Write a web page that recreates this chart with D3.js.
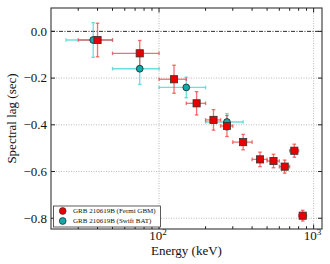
<!DOCTYPE html>
<html><head><meta charset="utf-8">
<script src="https://cdn.jsdelivr.net/npm/d3@7"></script>
<style>
html,body{margin:0;padding:0;background:#fff;}
svg text{font-family:"Liberation Serif","DejaVu Serif",serif;fill:#111;}
</style></head>
<body><svg id="c" width="330" height="264"></svg>
<script>
// Fermi GBM
const gbmE    = [40, 75, 125, 175, 225, 275, 350, 450, 550, 650, 750, 850];
const gbmElo  = [30, 50, 100, 150, 200, 250, 300, 400, 500, 600, 700, 800];
const gbmEhi  = [50, 100, 150, 200, 250, 300, 400, 500, 600, 700, 800, 900];
const gbmLag  = [-0.037, -0.094, -0.205, -0.308, -0.379, -0.405, -0.474, -0.548, -0.555, -0.579, -0.511, -0.789];
const gbmErr  = [0.072, 0.055, 0.060, 0.050, 0.044, 0.045, 0.033, 0.031, 0.029, 0.028, 0.028, 0.023];
// Swift BAT
const batE    = [37.5, 75, 150, 275];
const batElo  = [25, 50, 100, 200];
const batEhi  = [50, 100, 200, 350];
const batLag  = [-0.037, -0.160, -0.240, -0.388];
const batErr  = [0.074, 0.067, 0.044, 0.036];
const yTicks  = [0.0, -0.2, -0.4, -0.6, -0.8];
const xMajor  = [100, 1000];
const xMinor  = [30,40,50,60,70,80,90,200,300,400,500,600,700,800,900];
const legendLabels = ["GRB 210619B (Fermi GBM)", "GRB 210619B (Swift BAT)"];

const L=51, R=322, T=8, B=229;
const svg = d3.select("#c");
const x = d3.scaleLog().domain([20, 1133]).range([L, R]);
const y = d3.scaleLinear().domain([-0.846, 0.1]).range([B, T]);

// grid
const g = svg.append("g");
g.selectAll(".gy").data(yTicks.filter(d=>d!==0)).enter().append("line")
 .attr("x1",L).attr("x2",R).attr("y1",d=>y(d)).attr("y2",d=>y(d))
 .attr("stroke","#aaa").attr("stroke-width",0.8).attr("stroke-dasharray","1,1.5");
g.selectAll(".gx").data(xMajor).enter().append("line")
 .attr("x1",d=>x(d)).attr("x2",d=>x(d)).attr("y1",T).attr("y2",B)
 .attr("stroke","#aaa").attr("stroke-width",0.8).attr("stroke-dasharray","1,1.5");
// zero line dash-dot
g.append("line").attr("x1",L).attr("x2",R).attr("y1",y(0)).attr("y2",y(0))
 .attr("stroke","#111").attr("stroke-width",0.9).attr("stroke-dasharray","4,1.5,1,1.5");

// error bars
function errbars(E, lo, hi, lag, err, col){
  const eg = svg.append("g").attr("stroke",col).attr("stroke-width",1.3).attr("stroke-opacity",0.75);
  E.forEach((e,i)=>{
    eg.append("line").attr("x1",x(lo[i])).attr("x2",x(hi[i])).attr("y1",y(lag[i])).attr("y2",y(lag[i]));
    eg.append("line").attr("x1",x(e)).attr("x2",x(e)).attr("y1",y(lag[i]-err[i])).attr("y2",y(lag[i]+err[i]));
    [lo[i],hi[i]].forEach(v=>eg.append("line").attr("x1",x(v)).attr("x2",x(v)).attr("y1",y(lag[i])-1.8).attr("y2",y(lag[i])+1.8));
    [lag[i]-err[i],lag[i]+err[i]].forEach(v=>eg.append("line").attr("x1",x(e)-1.8).attr("x2",x(e)+1.8).attr("y1",y(v)).attr("y2",y(v)));
  });
}
errbars(batE, batElo, batEhi, batLag, batErr, "#3fd3d3");
errbars(gbmE, gbmElo, gbmEhi, gbmLag, gbmErr, "#f04040");

svg.append("g").selectAll("circle").data(batE).enter().append("circle")
 .attr("cx",d=>x(d)).attr("cy",(d,i)=>y(batLag[i])).attr("r",3.4)
 .attr("fill","#11a9a9").attr("stroke","#222").attr("stroke-width",0.8);
svg.append("g").selectAll("rect").data(gbmE).enter().append("rect")
 .attr("x",d=>x(d)-3.6).attr("y",(d,i)=>y(gbmLag[i])-3.6).attr("width",7.2).attr("height",7.2)
 .attr("fill","#e80000").attr("stroke","#333").attr("stroke-width",0.8);

// frame
svg.append("rect").attr("x",L).attr("y",T).attr("width",R-L).attr("height",B-T)
 .attr("fill","none").attr("stroke","#333").attr("stroke-width",1.1);

// y ticks
const ta = svg.append("g").attr("stroke","#222").attr("stroke-width",1);
yTicks.forEach(v=>{
  ta.append("line").attr("x1",L).attr("x2",L+4).attr("y1",y(v)).attr("y2",y(v));
  ta.append("line").attr("x1",R).attr("x2",R-4).attr("y1",y(v)).attr("y2",y(v));
});
xMajor.forEach(v=>{
  ta.append("line").attr("x1",x(v)).attr("x2",x(v)).attr("y1",B).attr("y2",B-4.5);
  ta.append("line").attr("x1",x(v)).attr("x2",x(v)).attr("y1",T).attr("y2",T+4.5);
});
xMinor.forEach(v=>{
  ta.append("line").attr("x1",x(v)).attr("x2",x(v)).attr("y1",B).attr("y2",B-2.8);
  ta.append("line").attr("x1",x(v)).attr("x2",x(v)).attr("y1",T).attr("y2",T+2.8);
});
svg.append("g").selectAll("text").data(yTicks).enter().append("text")
 .attr("x",47).attr("y",d=>y(d)+4.3).attr("text-anchor","end").attr("font-size",13)
 .text(d=>d===0?"0.0":"\u2212"+Math.abs(d).toFixed(1));
xMajor.forEach(v=>{
  const t = svg.append("text").attr("x",x(v)-1).attr("y",240).attr("text-anchor","middle").attr("font-size",13);
  t.append("tspan").text("10");
  t.append("tspan").attr("dy",-5).attr("font-size",9).text(String(Math.round(Math.log10(v))));
});
svg.append("text").attr("x",(L+R)/2).attr("y",255).attr("text-anchor","middle").attr("font-size",13).text("Energy (keV)");
svg.append("text").attr("transform",`translate(16,${(T+B)/2}) rotate(-90)`).attr("text-anchor","middle").attr("font-size",13).text("Spectral lag (sec)");

// legend
const lg = svg.append("g");
lg.append("rect").attr("x",53.5).attr("y",206).attr("width",107).attr("height",21)
 .attr("fill","#fff").attr("stroke","#333").attr("stroke-width",0.8);
lg.append("circle").attr("cx",62.7).attr("cy",211).attr("r",3.4).attr("fill","#e80000").attr("stroke","#333").attr("stroke-width",0.7);
lg.append("circle").attr("cx",62.7).attr("cy",221).attr("r",3.4).attr("fill","#11a9a9").attr("stroke","#222").attr("stroke-width",0.7);
legendLabels.forEach((s,i)=>lg.append("text").attr("x",73).attr("y",213.3+i*10).attr("font-size",7).text(s));
</script></body></html>
